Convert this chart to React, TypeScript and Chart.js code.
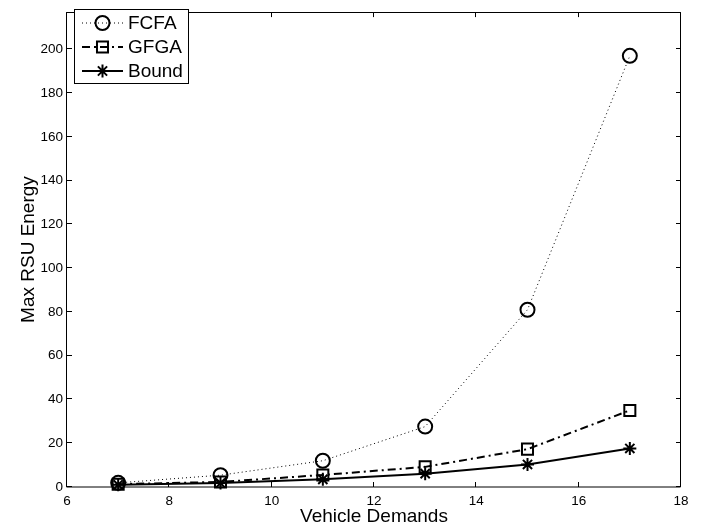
import React, { useEffect, useRef } from "react";
import { Chart, registerables } from "chart.js";

Chart.register(...registerables);

const xValues = [7, 9, 11, 13, 15, 17];
const fcfaValues = [1.9, 5.4, 12, 27.6, 81, 197];
const gfgaValues = [1.3, 2.3, 5.5, 9.2, 17.3, 35];
const boundValues = [1.0, 1.8, 3.5, 6.1, 10.3, 17.6];
const seriesNames = ["FCFA", "GFGA", "Bound"];
const xTicks = [6, 8, 10, 12, 14, 16, 18];
const yTicks = [0, 20, 40, 60, 80, 100, 120, 140, 160, 180, 200];
const xTitle = "Vehicle Demands";
const yTitle = "Max RSU Energy";

const FONT = "'Liberation Sans', Arial, Helvetica, sans-serif";

function drawMarker(ctx: CanvasRenderingContext2D, style: string, x: number, y: number, r: number) {
  ctx.beginPath();
  if (style === "circle") {
    ctx.arc(x, y, r, 0, Math.PI * 2);
  } else if (style === "rect") {
    const s = r * Math.SQRT1_2;
    ctx.rect(x - s, y - s, 2 * s, 2 * s);
  } else if (style === "star") {
    for (let i = 0; i < 4; i++) {
      const a = (i * Math.PI) / 4;
      ctx.moveTo(x - Math.cos(a) * r, y - Math.sin(a) * r);
      ctx.lineTo(x + Math.cos(a) * r, y + Math.sin(a) * r);
    }
  }
  ctx.stroke();
}

const framePlugin = {
  id: "matlabFrame",
  afterDraw(chart: any) {
    const { ctx, chartArea } = chart;
    const { left, right, top, bottom } = chartArea;
    const xs = chart.scales.x;
    const ys = chart.scales.y;
    ctx.save();
    ctx.strokeStyle = "#000";
    ctx.lineWidth = 1;
    ctx.setLineDash([]);
    ctx.beginPath();
    ctx.rect(Math.round(left) - 0.5, Math.round(top) + 0.5, Math.round(right - left), Math.round(bottom - top) - 0.5);
    ctx.stroke();
    const tl = 5;
    ctx.beginPath();
    xTicks.forEach((v) => {
      const px = Math.round(xs.getPixelForValue(v)) - 0.5;
      ctx.moveTo(px, bottom);
      ctx.lineTo(px, bottom - tl);
      ctx.moveTo(px, top);
      ctx.lineTo(px, top + tl);
    });
    yTicks.forEach((v) => {
      const py = Math.round(ys.getPixelForValue(v)) - 0.5;
      ctx.moveTo(left, py);
      ctx.lineTo(left + tl, py);
      ctx.moveTo(right, py);
      ctx.lineTo(right - tl, py);
    });
    ctx.stroke();

    // legend box
    const bx = 74, by = 9, bw = 114, bh = 74;
    ctx.fillStyle = "#fff";
    ctx.fillRect(bx, by, bw, bh);
    ctx.strokeRect(bx + 0.5, by + 0.5, bw, bh);
    const rowY = [23, 47, 71];
    chart.data.datasets.forEach((ds: any, i: number) => {
      const y = rowY[i];
      ctx.save();
      ctx.strokeStyle = "#000";
      ctx.lineWidth = ds.borderWidth;
      ctx.setLineDash(ds.borderDash || []);
      ctx.beginPath();
      ctx.moveTo(82, y);
      ctx.lineTo(123, y);
      ctx.stroke();
      ctx.setLineDash([]);
      ctx.lineWidth = ds.pointBorderWidth;
      drawMarker(ctx, ds.pointStyle, 102.5, y, ds.pointRadius);
      ctx.restore();
      ctx.fillStyle = "#000";
      ctx.font = `19px ${FONT}`;
      ctx.textBaseline = "middle";
      ctx.textAlign = "left";
      ctx.fillText(ds.label, 128, y + 1);
    });
    ctx.restore();
  },
};

export default function App() {
  const canvasRef = useRef<HTMLCanvasElement | null>(null);
  useEffect(() => {
    const canvas = canvasRef.current;
    if (!canvas) return;
    const mk = (vals: number[]) => xValues.map((x, i) => ({ x, y: vals[i] }));
    const chart = new Chart(canvas, {
      type: "line",
      data: {
        datasets: [
          {
            label: seriesNames[0],
            data: mk(fcfaValues),
            borderColor: "#000",
            backgroundColor: "rgba(0,0,0,0)",
            borderWidth: 1,
            borderDash: [1, 3],
            pointStyle: "circle",
            pointRadius: 7,
            pointBorderWidth: 2,
            pointBorderColor: "#000",
            pointBackgroundColor: "rgba(0,0,0,0)",
            tension: 0,
            clip: false,
          },
          {
            label: seriesNames[1],
            data: mk(gfgaValues),
            borderColor: "#000",
            backgroundColor: "rgba(0,0,0,0)",
            borderWidth: 2,
            borderDash: [8, 4, 2, 4],
            pointStyle: "rect",
            pointRadius: 7.8,
            pointBorderWidth: 2,
            pointBorderColor: "#000",
            pointBackgroundColor: "rgba(0,0,0,0)",
            tension: 0,
            clip: false,
          },
          {
            label: seriesNames[2],
            data: mk(boundValues),
            borderColor: "#000",
            backgroundColor: "rgba(0,0,0,0)",
            borderWidth: 2,
            pointStyle: "star",
            pointRadius: 6.5,
            pointBorderWidth: 2,
            pointBorderColor: "#000",
            pointBackgroundColor: "rgba(0,0,0,0)",
            tension: 0,
            clip: false,
          },
        ] as any,
      },
      options: {
        responsive: false,
        animation: false,
        devicePixelRatio: 1,
        layout: { padding: { top: 3, right: 27, left: 0, bottom: 0 } },
        plugins: { legend: { display: false }, tooltip: { enabled: false } },
        scales: {
          x: {
            type: "linear",
            min: 6,
            max: 18,
            grid: { display: false, drawTicks: false },
            border: { display: false },
            afterBuildTicks: (s: any) => {
              s.ticks = xTicks.map((v) => ({ value: v }));
            },
            afterFit: (s: any) => {
              s.height = 44;
            },
            ticks: {
              color: "#000",
              padding: 6,
              font: { family: FONT, size: 13.5 },
              maxRotation: 0,
            },
            title: {
              display: true,
              text: xTitle,
              color: "#000",
              font: { family: FONT, size: 19 },
              padding: { top: 0, bottom: 3 },
            },
          },
          y: {
            type: "linear",
            min: 0,
            max: 217,
            grid: { display: false, drawTicks: false },
            border: { display: false },
            afterBuildTicks: (s: any) => {
              s.ticks = yTicks.map((v) => ({ value: v }));
            },
            afterFit: (s: any) => {
              s.width = 67;
            },
            ticks: {
              color: "#000",
              padding: 4,
              font: { family: FONT, size: 13.5 },
            },
            title: {
              display: true,
              text: yTitle,
              color: "#000",
              font: { family: FONT, size: 19 },
              padding: { top: 17, bottom: 0 },
            },
          },
        },
      } as any,
      plugins: [framePlugin],
    });
    return () => chart.destroy();
  }, []);
  return (
    <div style={{ position: "absolute", left: 0, top: 0, width: 708, height: 531, background: "#fff" }}>
      <canvas ref={canvasRef} width={708} height={531} style={{ display: "block" }} />
    </div>
  );
}
